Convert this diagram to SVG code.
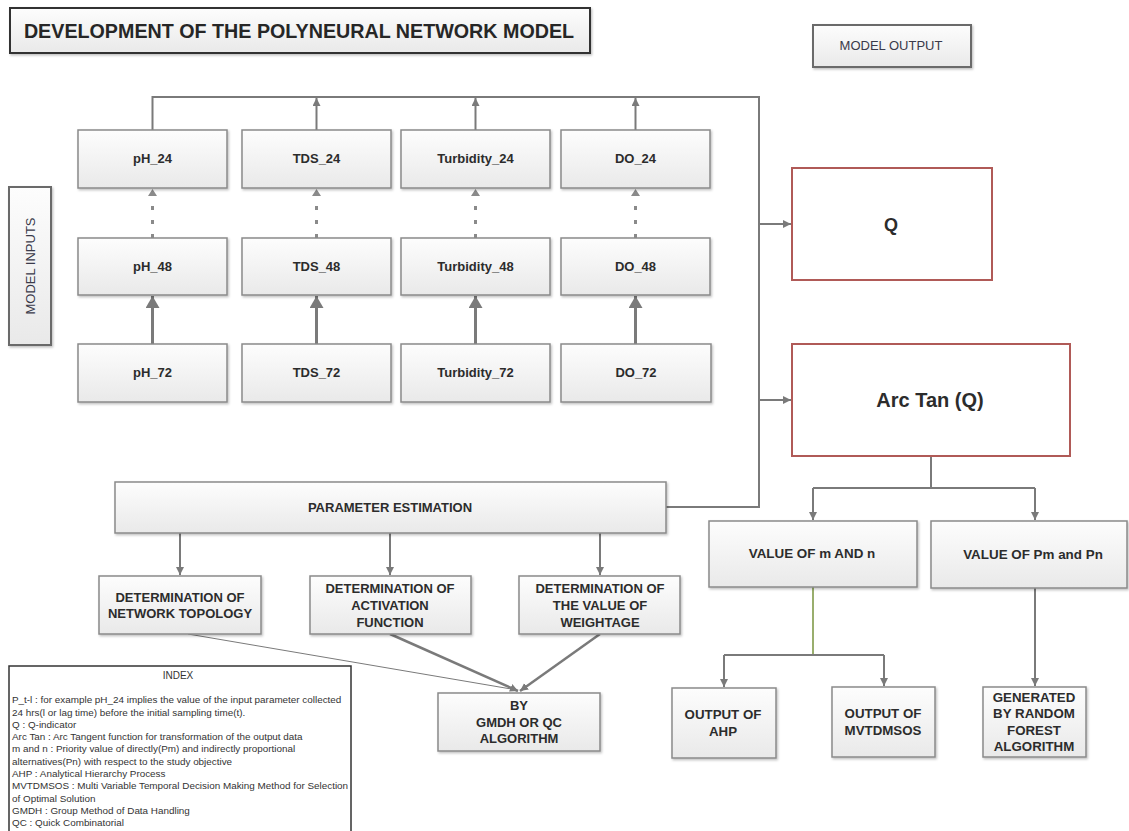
<svg xmlns="http://www.w3.org/2000/svg" width="1129" height="831" viewBox="0 0 1129 831">
<defs>
<linearGradient id="g" x1="0" y1="0" x2="0" y2="1">
<stop offset="0" stop-color="#fdfdfd"/>
<stop offset="1" stop-color="#e9e9e9"/>
</linearGradient>
<filter id="sh" x="-5%" y="-5%" width="115%" height="120%">
<feDropShadow dx="1.2" dy="1.5" stdDeviation="1" flood-color="#000" flood-opacity="0.25"/>
</filter>
<marker id="a" markerUnits="userSpaceOnUse" markerWidth="10" markerHeight="10" refX="8" refY="4" orient="auto">
<path d="M0,0 L8,4 L0,8 Z" fill="#7a7a7a"/>
</marker>
<marker id="ab" markerUnits="userSpaceOnUse" markerWidth="14" markerHeight="16" refX="12" refY="7" orient="auto">
<path d="M0,0 L12,7 L0,14 Z" fill="#7a7a7a"/>
</marker>
<style>
.box{fill:url(#g);stroke:#8a8a8a;stroke-width:1.5;filter:url(#sh)}
.red{fill:#fff;stroke:#b05a57;stroke-width:2}
.t{font-family:"Liberation Sans",Arial,sans-serif;font-weight:bold;font-size:13px;fill:#2c2c2c;text-anchor:middle;dominant-baseline:central}
.r{font-family:"Liberation Sans",Arial,sans-serif;font-size:13px;fill:#3a3a4a;text-anchor:middle;dominant-baseline:central}
.c{fill:none;stroke:#7a7a7a;stroke-width:2}
.thick{fill:none;stroke:#7a7a7a;stroke-width:3}
.dot{fill:none;stroke:#8a8a8a;stroke-width:3;stroke-dasharray:4 10}
.idx{font-family:"Liberation Sans",Arial,sans-serif;font-size:9.9px;fill:#333}
</style>
</defs>
<rect width="1129" height="831" fill="#fff"/>

<g id="title">
<rect x="10" y="8" width="580" height="45" fill="url(#g)" stroke="#333" stroke-width="2" filter="url(#sh)"/>
<text x="299" y="31" class="t" style="font-size:19.7px;fill:#262626">DEVELOPMENT OF THE POLYNEURAL NETWORK MODEL</text>
</g>
<g id="model-output">
<rect x="813" y="25" width="158" height="42" class="box" style="stroke:#6a6a6a;stroke-width:2"/>
<text x="891" y="45" class="r">MODEL OUTPUT</text>
</g>
<g id="model-inputs">
<rect x="9" y="187" width="42" height="158" class="box" style="stroke:#6a6a6a;stroke-width:2"/>
<text x="30" y="266" class="r" transform="rotate(-90 30 266)">MODEL INPUTS</text>
</g>

<g id="connectors">
<path class="c" d="M666,507 H759 V97 H152.5 V130"/>
<path class="c" d="M316.5,130 V98" marker-end="url(#a)"/>
<path class="c" d="M475.5,130 V98" marker-end="url(#a)"/>
<path class="c" d="M635.5,130 V98" marker-end="url(#a)"/>
<path class="c" d="M759,224 H791" marker-end="url(#a)"/>
<path class="c" d="M759,400 H791" marker-end="url(#a)"/>
<path class="dot" d="M152.5,238 V198"/>
<path class="dot" d="M316.5,238 V198"/>
<path class="dot" d="M475.5,238 V198"/>
<path class="dot" d="M635.5,238 V198"/>
<path d="M148,196 L152.5,189 L157,196 Z M312,196 L316.5,189 L321,196 Z M471,196 L475.5,189 L480,196 Z M631,196 L635.5,189 L640,196 Z" fill="#8a8a8a"/>
<path class="thick" d="M152.5,344 V296" marker-end="url(#ab)"/>
<path class="thick" d="M316.5,344 V296" marker-end="url(#ab)"/>
<path class="thick" d="M475.5,344 V296" marker-end="url(#ab)"/>
<path class="thick" d="M635.5,344 V296" marker-end="url(#ab)"/>
<path class="c" d="M180,533 V575" marker-end="url(#a)"/>
<path class="c" d="M390,533 V575" marker-end="url(#a)"/>
<path class="c" d="M600,533 V575" marker-end="url(#a)"/>
<path fill="none" stroke="#7a7a7a" stroke-width="1" d="M188,634 L517,690"/>
<path class="c" style="stroke-width:2.5" d="M390,634 L518,691" marker-end="url(#a)"/>
<path class="c" style="stroke-width:2.5" d="M600,634 L520,691" marker-end="url(#a)"/>
<path class="c" d="M931,456 V488 M813,488 H1035"/>
<path class="c" d="M813,488 V520" marker-end="url(#a)"/>
<path class="c" d="M1035,488 V520" marker-end="url(#a)"/>
<path fill="none" stroke="#77933c" stroke-width="1.5" d="M813,587 V655"/>
<path class="c" d="M724,655 H884"/>
<path class="c" d="M724,655 V687" marker-end="url(#a)"/>
<path class="c" d="M884,655 V686" marker-end="url(#a)"/>
<path class="c" d="M1035,588 V686" marker-end="url(#a)"/>
</g>

<g id="pH_24"><rect x="78" y="130" width="149" height="58" class="box"/><text x="152.5" y="158" class="t">pH_24</text></g>
<g id="TDS_24"><rect x="242" y="130" width="149" height="58" class="box"/><text x="316.5" y="158" class="t">TDS_24</text></g>
<g id="Turbidity_24"><rect x="401" y="130" width="149" height="58" class="box"/><text x="475.5" y="158" class="t">Turbidity_24</text></g>
<g id="DO_24"><rect x="561" y="130" width="149" height="58" class="box"/><text x="635.5" y="158" class="t">DO_24</text></g>

<g id="pH_48"><rect x="78" y="238" width="149" height="57" class="box"/><text x="152.5" y="266" class="t">pH_48</text></g>
<g id="TDS_48"><rect x="242" y="238" width="149" height="57" class="box"/><text x="316.5" y="266" class="t">TDS_48</text></g>
<g id="Turbidity_48"><rect x="401" y="238" width="149" height="57" class="box"/><text x="475.5" y="266" class="t">Turbidity_48</text></g>
<g id="DO_48"><rect x="561" y="238" width="149" height="57" class="box"/><text x="635.5" y="266" class="t">DO_48</text></g>

<g id="pH_72"><rect x="78" y="344" width="149" height="58" class="box"/><text x="152.5" y="372" class="t">pH_72</text></g>
<g id="TDS_72"><rect x="242" y="344" width="149" height="58" class="box"/><text x="316.5" y="372" class="t">TDS_72</text></g>
<g id="Turbidity_72"><rect x="401" y="344" width="149" height="58" class="box"/><text x="475.5" y="372" class="t">Turbidity_72</text></g>
<g id="DO_72"><rect x="561" y="344" width="150" height="58" class="box"/><text x="636" y="372" class="t">DO_72</text></g>

<g id="Q"><rect x="792" y="168" width="200" height="112" class="red"/><text x="891" y="225" class="t" style="font-size:18px">Q</text></g>
<g id="ArcTan"><rect x="792" y="344" width="278" height="112" class="red"/><text x="930" y="400" class="t" style="font-size:20px">Arc Tan (Q)</text></g>

<g id="param-est"><rect x="115" y="482" width="551" height="51" class="box"/><text x="390" y="507" class="t">PARAMETER ESTIMATION</text></g>

<g id="topology"><rect x="99" y="576" width="162" height="58" class="box"/>
<text class="t"><tspan x="180" y="597">DETERMINATION OF</tspan><tspan x="180" y="613">NETWORK TOPOLOGY</tspan></text></g>
<g id="activation"><rect x="310" y="576" width="161" height="58" class="box"/>
<text class="t"><tspan x="390" y="588">DETERMINATION OF</tspan><tspan x="390" y="605">ACTIVATION</tspan><tspan x="390" y="622">FUNCTION</tspan></text></g>
<g id="weightage"><rect x="519" y="576" width="161" height="58" class="box"/>
<text class="t"><tspan x="600" y="588">DETERMINATION OF</tspan><tspan x="600" y="605">THE VALUE OF</tspan><tspan x="600" y="622">WEIGHTAGE</tspan></text></g>
<g id="gmdh"><rect x="438" y="693" width="162" height="58" class="box"/>
<text class="t"><tspan x="519" y="705">BY</tspan><tspan x="519" y="722">GMDH OR QC</tspan><tspan x="519" y="738">ALGORITHM</tspan></text></g>

<g id="value-mn"><rect x="709" y="521" width="208" height="66" class="box"/><text x="812" y="553" class="t" style="font-size:13.4px">VALUE OF m AND n</text></g>
<g id="value-pmpn"><rect x="931" y="521" width="196" height="67" class="box"/><text x="1033" y="554" class="t" style="font-size:13.4px">VALUE OF Pm and Pn</text></g>

<g id="ahp"><rect x="672" y="688" width="104" height="70" class="box"/>
<text class="t" style="font-size:13.3px"><tspan x="723" y="714">OUTPUT OF</tspan><tspan x="723" y="731">AHP</tspan></text></g>
<g id="mvtdmsos"><rect x="832" y="687" width="103" height="70" class="box"/>
<text class="t" style="font-size:13.3px"><tspan x="883" y="713">OUTPUT OF</tspan><tspan x="883" y="730">MVTDMSOS</tspan></text></g>
<g id="random-forest"><rect x="983" y="687" width="103" height="70" class="box"/>
<text class="t" style="font-size:13.3px"><tspan x="1034" y="697">GENERATED</tspan><tspan x="1034" y="713">BY RANDOM</tspan><tspan x="1034" y="730">FOREST</tspan><tspan x="1034" y="746">ALGORITHM</tspan></text></g>

<g id="index">
<rect x="9" y="666" width="342" height="180" fill="#fff" stroke="#333" stroke-width="1.5"/>
<text x="178" y="679" class="idx" style="text-anchor:middle;font-size:10px">INDEX</text>
<text class="idx">
<tspan x="12" y="703">P_t-l : for example pH_24 implies the value of the input parameter collected</tspan>
<tspan x="12" y="715.5">24 hrs(l or lag time) before the initial sampling time(t).</tspan>
<tspan x="12" y="727.5">Q : Q-indicator</tspan>
<tspan x="12" y="740">Arc Tan : Arc Tangent function for transformation of the output data</tspan>
<tspan x="12" y="752">m and n : Priority value of directly(Pm) and indirectly proportional</tspan>
<tspan x="12" y="764.5">alternatives(Pn) with respect to the study objective</tspan>
<tspan x="12" y="777">AHP : Analytical Hierarchy Process</tspan>
<tspan x="12" y="789">MVTDMSOS : Multi Variable Temporal Decision Making Method for Selection</tspan>
<tspan x="12" y="801.5">of Optimal Solution</tspan>
<tspan x="12" y="814">GMDH : Group Method of Data Handling</tspan>
<tspan x="12" y="826">QC : Quick Combinatorial</tspan>
</text>
</g>
</svg>
